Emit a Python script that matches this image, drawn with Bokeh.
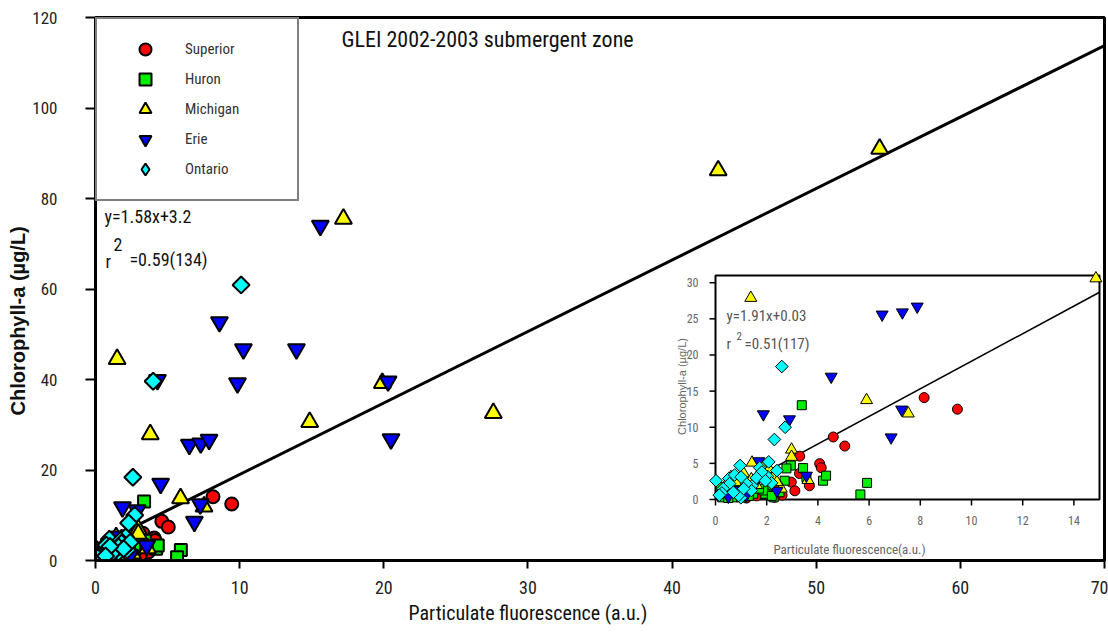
import math
from bokeh.plotting import figure
from bokeh.models import Range1d, Label, Legend, LegendItem, FixedTicker, Title
from bokeh.embed import file_html
from bokeh.resources import INLINE
from bokeh.core.properties import value

FONT = "Roboto Condensed, Liberation Sans Narrow, DejaVu Sans Condensed, Liberation Sans"

# ---------------- data ----------------
lakes = ["Superior", "Huron", "Michigan", "Erie", "Ontario"]

# points shared by the main plot and the inset (x = particulate fluorescence, y = chl-a)
sup_x = [8.15, 9.45, 4.60, 5.05, 3.29, 4.07, 4.13, 3.28, 3.67, 2.96, 2.60, 1.86, 1.21, 0.70, 1.22,
         2.05, 1.60, 2.40, 3.10, 1.00, 1.40, 2.30, 0.45]
sup_y = [14.1, 12.5, 8.65, 7.4, 6.0, 4.96, 4.4, 3.6, 1.9, 2.4, 0.6, 0.8, 0.2, 1.7, 0.3,
         1.0, 0.5, 1.8, 1.2, 0.9, 1.4, 0.3, 0.6]

hur_x = [3.37, 5.92, 5.66, 4.20, 4.32, 3.42, 2.94, 2.77, 2.70, 3.55, 2.00, 1.95, 1.54, 1.47, 0.26,
         0.36, 0.69, 0.20, 0.44, 0.70, 1.87, 2.27, 1.00, 2.50, 2.20, 1.20, 0.50, 1.30, 1.70, 0.90]
hur_y = [13.05, 2.3, 0.7, 2.6, 3.3, 4.35, 4.7, 4.3, 2.6, 3.1, 1.5, 0.8, 2.4, 0.8, 0.3,
         1.25, 0.8, 1.7, 0.8, 0.3, 1.25, 0.3, 0.3, 1.0, 0.5, 1.0, 0.2, 0.5, 1.5, 1.4]

mich_x = [14.86, 5.90, 7.53, 2.97, 2.97, 1.43, 1.81, 1.10, 3.61, 2.57, 2.25, 0.60, 0.83, 1.60, 1.40,
          2.10, 1.90, 0.40, 2.40]
mich_y = [30.6, 13.75, 11.9, 6.9, 5.9, 5.1, 4.7, 3.6, 2.7, 1.5, 3.0, 3.1, 2.4, 2.0, 2.8,
          4.2, 3.4, 2.0, 2.4]

erie_x = [6.51, 7.30, 7.88, 4.52, 1.87, 2.89, 7.27, 6.86, 3.55, 1.69, 0.79, 1.20, 2.40, 1.60, 0.50]
erie_y = [25.6, 25.9, 26.7, 17.0, 11.8, 11.1, 12.45, 8.6, 3.3, 5.3, 1.3, 0.6, 1.2, 2.6, 0.4]

ont_x = [2.59, 2.72, 2.30, 2.08, 0.96, 1.73, 2.03, 0.02, 0.52, 0.50, 1.43, 2.19, 0.99, 1.40, 0.55,
         1.20, 0.90, 1.81, 0.30, 1.60, 2.40, 1.10, 0.75, 1.95, 0.25, 1.00, 0.15, 0.70]
ont_y = [18.4, 10.0, 8.3, 5.2, 4.7, 4.4, 3.2, 2.6, 2.9, 1.9, 1.9, 2.3, 0.25, 1.25, 2.2,
         2.2, 0.55, 3.8, 1.5, 3.0, 4.0, 1.5, 3.4, 2.6, 0.9, 3.1, 0.6, 1.0]

# points that only appear in the main (full-range) plot
sup_main_x, sup_main_y = [], []
hur_main_x, hur_main_y = [], []
mich_main_x = [43.2, 54.4, 17.2, 1.5, 19.9, 27.6, 3.8]
mich_main_y = [86.2, 91.0, 75.5, 44.5, 39.2, 32.6, 27.9]
erie_main_x = [15.6, 8.6, 10.26, 13.94, 9.85, 4.3, 20.3, 20.5]
erie_main_y = [74.0, 52.7, 46.7, 46.7, 39.2, 39.9, 39.6, 26.8]
ont_main_x = [10.1, 4.0]
ont_main_y = [60.9, 39.6]

# points that only appear in the inset
mich_inset_x = [1.38]
mich_inset_y = [27.9]

# regressions
main_slope, main_icept = 1.58, 3.2
inset_slope, inset_icept = 1.91, 0.03

main_xticks = [0, 10, 20, 30, 40, 50, 60, 70]
main_yticks = [0, 20, 40, 60, 80, 100, 120]
main_xlim = (0, 70)
main_ylim = (0, 120)
inset_xticks = [0, 2, 4, 6, 8, 10, 12, 14]
inset_yticks = [0, 5, 10, 15, 20, 25, 30]
inset_xlim = (0, 15)
inset_ylim = (0, 31)

title_text = "GLEI 2002-2003 submergent zone"
main_eq = "y=1.58x+3.2"
main_r2 = "=0.59(134)"
inset_eq = "y=1.91x+0.03"
inset_r2 = "=0.51(117)"
xlabel = "Particulate fluorescence (a.u.)"
ylabel = "Chlorophyll-a (\u00b5g/L)"
inset_xlabel = "Particulate fluorescence(a.u.)"

# ---------------- layout constants (pixels) ----------------
W, H = 1108, 643
FL, FR, FT, FB = 95, 1104, 17, 560      # main frame
IL, IR, IT, IB = 715, 1099, 275, 499    # inset box

def mx(px):
    return main_xlim[0] + (px - FL) / (FR - FL) * (main_xlim[1] - main_xlim[0])

def my(py):
    return main_ylim[0] + (FB - py) / (FB - FT) * (main_ylim[1] - main_ylim[0])

isx = (IR - IL) / (inset_xlim[1] - inset_xlim[0])
isy = (IB - IT) / (inset_ylim[1] - inset_ylim[0])

def ix(px):
    return inset_xlim[0] + (px - IL) / isx

def iy(py):
    return inset_ylim[0] + (IB - py) / isy

p = figure(width=W, height=H, output_backend="svg", toolbar_location=None,
           x_range=Range1d(*main_xlim), y_range=Range1d(*main_ylim),
           min_border_left=FL, min_border_right=W - FR, min_border_top=FT, min_border_bottom=H - FB)
p.extra_x_ranges = {"ix": Range1d(ix(FL), ix(FR))}
p.extra_y_ranges = {"iy": Range1d(iy(FB), iy(FT))}

p.grid.visible = False
p.background_fill_color = "white"
p.border_fill_color = "white"
p.outline_line_color = "black"
p.outline_line_width = 3

for ax in (p.xaxis[0], p.yaxis[0]):
    ax.axis_line_width = 3
    ax.major_tick_line_width = 2
    ax.minor_tick_line_color = None
    ax.major_tick_in = 0
    ax.major_label_text_font = FONT
    ax.major_label_text_color = "#222222"
p.xaxis.major_label_text_font_size = "18px"
p.yaxis.major_label_text_font_size = "17px"
p.xaxis.ticker = FixedTicker(ticks=main_xticks)
p.yaxis.ticker = FixedTicker(ticks=main_yticks)
p.xaxis.major_tick_out = 8
p.yaxis.major_tick_out = 10
p.xaxis.major_label_standoff = 12
p.yaxis.major_label_standoff = 28

# axis titles as side-panel titles
p.add_layout(Title(text=xlabel, align="left", offset=313, text_font=FONT, text_font_size="20px",
                   text_font_style="normal", text_color="#111111", standoff=4), "below")
p.add_layout(Title(text=ylabel, align="left", offset=145, text_font="Liberation Sans",
                   text_font_size="20px", text_font_style="bold", text_color="#111111",
                   standoff=2), "left")

# ---------------- main plot ----------------
colors = ["#ff0000", "#00ee00", "#ffff00", "#0000ff", "#00ffff"]
main_sets = [
    (sup_x + sup_main_x, sup_y + sup_main_y, "circle", 13, 0),
    (hur_x + hur_main_x, hur_y + hur_main_y, "square", 12, 0),
    (mich_x + mich_main_x, mich_y + mich_main_y, "triangle", 17, 0),
    (erie_x + erie_main_x, erie_y + erie_main_y, "inverted_triangle", 17, 0),
    (ont_x + ont_main_x, ont_y + ont_main_y, "square", 12, math.pi / 4),
]
legend_markers = ["circle", "square", "triangle", "inverted_triangle", "diamond"]

p.line([main_xlim[0], main_xlim[1]],
       [main_slope * main_xlim[0] + main_icept, main_slope * main_xlim[1] + main_icept],
       line_color="black", line_width=3)

for (xs, ys, mk, sz, ang), c in zip(main_sets, colors):
    p.scatter(xs, ys, marker=mk, size=sz, angle=ang, fill_color=c,
              line_color="black", line_width=2)

# legend-only renderers (a single NaN point, never drawn in the plot)
NAN = float("nan")
legend_renderers = []
for mk, c in zip(legend_markers, colors):
    legend_renderers.append(p.scatter(x=[NAN], y=[NAN], marker=mk, size=12, fill_color=c,
                                      line_color="black", line_width=2))

legend = Legend(items=[LegendItem(label=n, renderers=[r], index=0)
                       for n, r in zip(lakes, legend_renderers)],
                location="top_left", margin=0, padding=15, spacing=0,
                glyph_width=66, glyph_height=30, label_height=30, label_width=97,
                label_standoff=7, border_line_color="black", border_line_width=2,
                label_text_font=FONT, label_text_font_size="15px", label_text_color="#333333",
                background_fill_color="white", background_fill_alpha=1.0)
p.add_layout(legend)

def lab(x, y, text, size, color="#111111", font=FONT, align="left", baseline="middle",
        angle=0.0, style="normal", xr="default", yr="default"):
    p.add_layout(Label(x=x, y=y, text=text, text_font=font, text_font_size=size,
                       text_color=color, text_align=align, text_baseline=baseline,
                       angle=angle, text_font_style=style,
                       x_range_name=xr, y_range_name=yr))

lab(mx(341), my(39), title_text, "22px")
lab(mx(104), my(216), main_eq, "18px")
lab(mx(105), my(261), "r", "18px")
lab(mx(113), my(244), "2", "18px")
lab(mx(129), my(259), main_r2, "18px")

# ---------------- inset ----------------
IR_ = dict(x_range_name="ix", y_range_name="iy")
p.quad(left=[inset_xlim[0]], right=[inset_xlim[1]], bottom=[inset_ylim[0]], top=[inset_ylim[1]],
       fill_color="white", line_color="black", line_width=2, **IR_)

p.segment(x0=[inset_xlim[0]] * len(inset_yticks), y0=inset_yticks,
          x1=[ix(IL - 6)] * len(inset_yticks), y1=inset_yticks,
          line_color="black", line_width=1.5, **IR_)
p.segment(x0=inset_xticks, y0=[inset_ylim[0]] * len(inset_xticks),
          x1=inset_xticks, y1=[iy(IB + 6)] * len(inset_xticks),
          line_color="black", line_width=1.5, **IR_)
p.text(x=[ix(IL - 17)] * len(inset_yticks), y=inset_yticks, text=[str(t) for t in inset_yticks],
       text_font=value(FONT), text_font_size="12px", text_color="#666666",
       text_align="right", text_baseline="middle", **IR_)
p.text(x=inset_xticks, y=[iy(IB + 21)] * len(inset_xticks), text=[str(t) for t in inset_xticks],
       text_font=value(FONT), text_font_size="12px", text_color="#666666",
       text_align="center", text_baseline="middle", **IR_)

p.line([inset_xlim[0], inset_xlim[1]],
       [inset_slope * inset_xlim[0] + inset_icept, inset_slope * inset_xlim[1] + inset_icept],
       line_color="black", line_width=1.5, **IR_)

inset_sets = [
    (sup_x, sup_y, "circle", 10, 0),
    (hur_x, hur_y, "square", 9, 0),
    (mich_x + mich_inset_x, mich_y + mich_inset_y, "triangle", 12, 0),
    (erie_x, erie_y, "inverted_triangle", 12, 0),
    (ont_x, ont_y, "square", 9, math.pi / 4),
]
for (xs, ys, mk, sz, ang), c in zip(inset_sets, colors):
    p.scatter(xs, ys, marker=mk, size=sz, angle=ang, fill_color=c,
              line_color="black", line_width=1, **IR_)

lab(ix(726), iy(315), inset_eq, "15px", color="#555555", xr="ix", yr="iy")
lab(ix(726), iy(343), "r", "15px", color="#555555", xr="ix", yr="iy")
lab(ix(736), iy(335), "2", "11px", color="#555555", xr="ix", yr="iy")
lab(ix(744), iy(343), inset_r2, "15px", color="#555555", xr="ix", yr="iy")
lab(ix(849), iy(549), inset_xlabel, "13px", color="#666666",
    align="center", xr="ix", yr="iy")
lab(ix(681), iy(386), ylabel, "11px", color="#666666", font="Liberation Sans",
    align="center", angle=math.pi / 2, xr="ix", yr="iy")

open("out.html", "w").write(file_html(p, INLINE))
